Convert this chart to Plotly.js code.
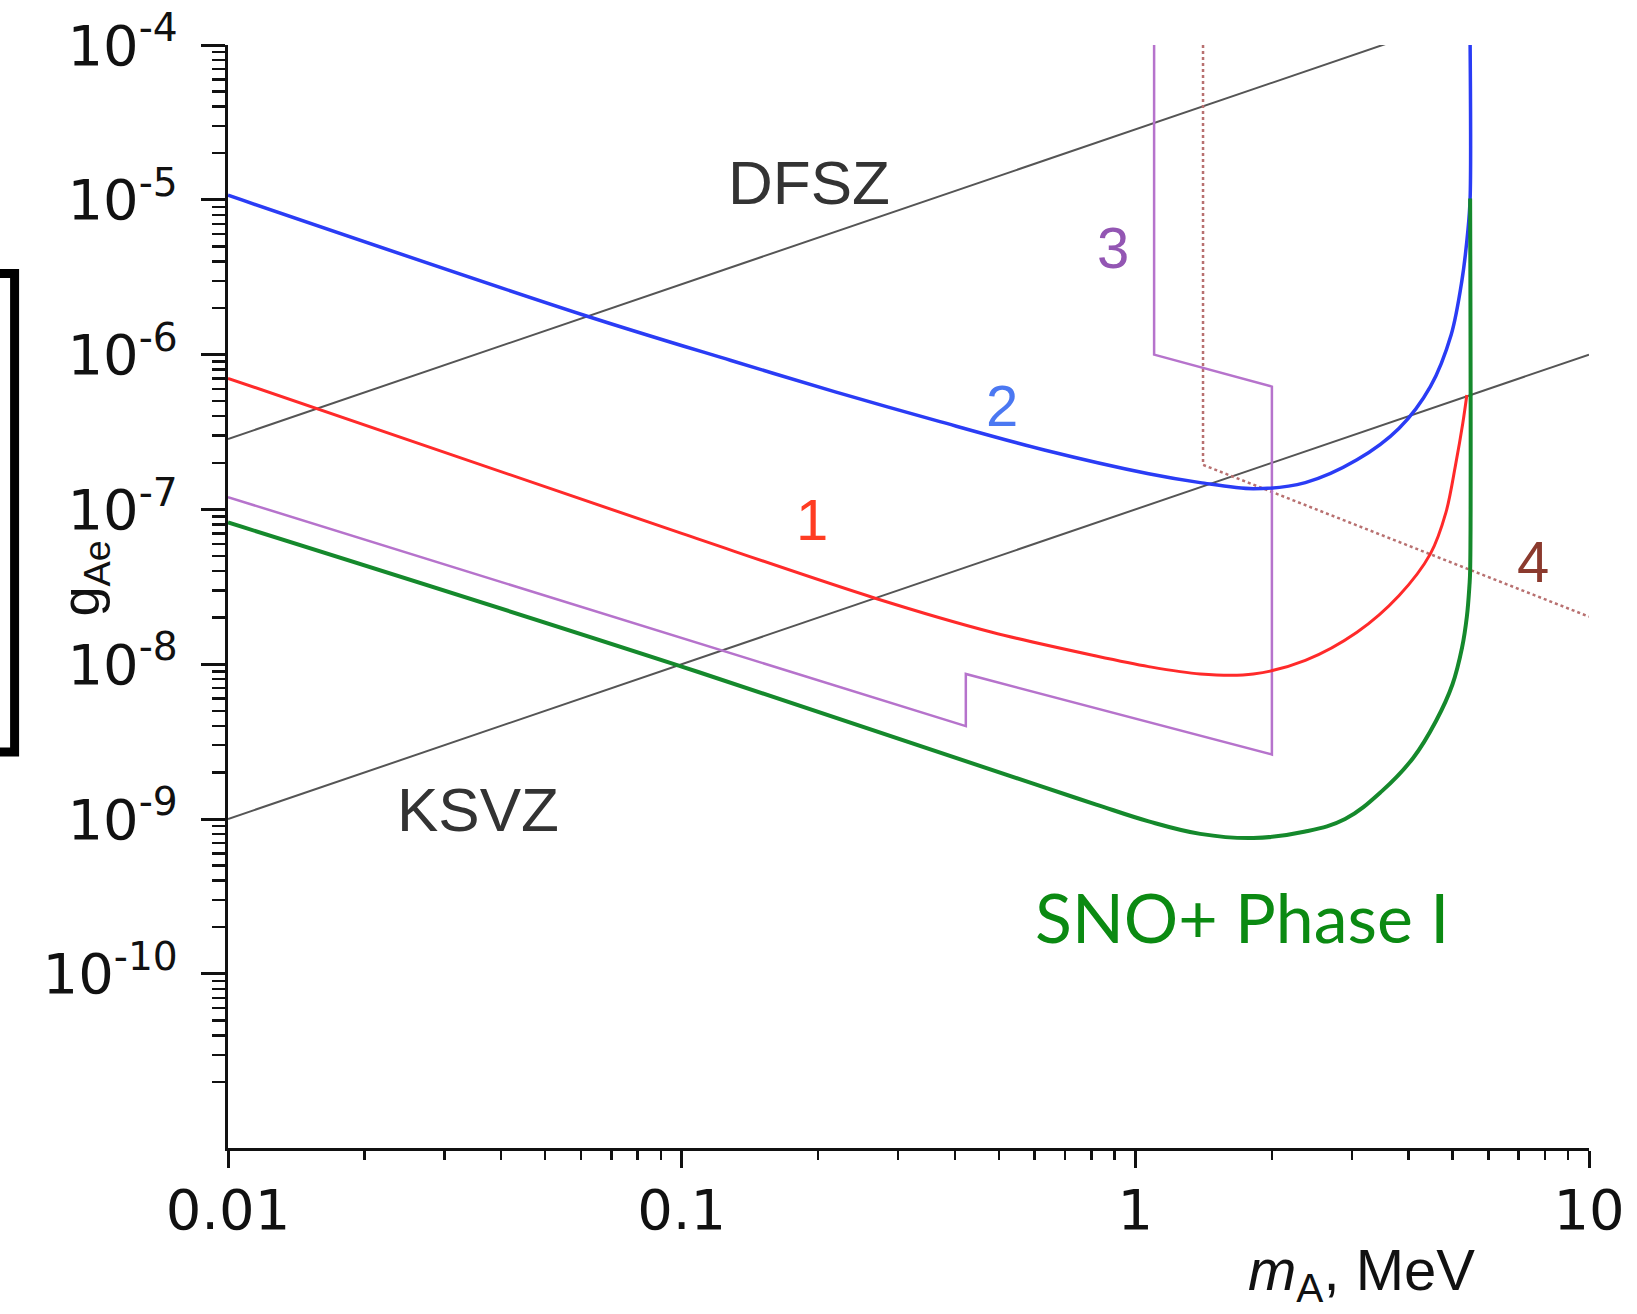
<!DOCTYPE html>
<html>
<head>
<meta charset="utf-8">
<script src="https://cdn.plot.ly/plotly-3.0.1.min.js"></script>
<style>html,body{margin:0;padding:0;background:#fff;}#chart{width:1637px;height:1314px;}</style>
</head>
<body>
<div id="chart"></div>
<script>
// ---- data (m_A in MeV, g_Ae) ----
var dfszX = [0.01, 10];
var dfszY = [2.85e-7, 2.85e-4];
var ksvzX = [0.01, 10];
var ksvzY = [1.0e-9, 1.0e-6];

var curve2X = [0.01, 0.0612, 0.1285, 0.218, 0.371, 0.630, 1.07, 1.39, 1.82, 2.37, 3.08, 3.81, 4.47, 4.97, 5.24, 5.41, 5.47, 5.47];
var curve2Y = [1.07e-5, 1.79e-6, 9.16e-7, 5.75e-7, 3.69e-7, 2.42e-7, 1.70e-7, 1.49e-7, 1.36e-7, 1.49e-7, 2.09e-7, 3.33e-7, 6.21e-7, 1.35e-6, 2.94e-6, 6.39e-6, 1.02e-5, 1.0e-4];

var curve1X = [0.01, 0.1, 0.267, 0.483, 0.82, 1.07, 1.39, 1.82, 2.37, 3.08, 3.81, 4.47, 4.84, 5.08, 5.27, 5.38];
var curve1Y = [7.03e-7, 7.0e-8, 2.67e-8, 1.61e-8, 1.13e-8, 9.65e-9, 8.65e-9, 8.65e-9, 1.06e-8, 1.61e-8, 2.77e-8, 5.16e-8, 9.6e-8, 1.94e-7, 3.6e-7, 5.48e-7];

var snoX = [0.01, 0.0985, 0.60, 0.82, 1.07, 1.39, 1.82, 2.37, 2.9, 3.5, 4.1, 4.6, 5.0, 5.25, 5.38, 5.45, 5.47, 5.47];
var snoY = [8.24e-8, 9.8e-9, 1.68e-9, 1.24e-9, 9.66e-10, 8.02e-10, 7.54e-10, 8.3e-10, 1.0e-9, 1.52e-9, 2.49e-9, 4.3e-9, 7.4e-9, 1.28e-8, 2.03e-8, 3.2e-8, 4.0e-8, 1.02e-5];

var curve3X = [0.01, 0.423, 0.423, 2.0, 2.0, 1.10, 1.10];
var curve3Y = [1.20e-7, 3.98e-9, 8.65e-9, 2.61e-9, 6.21e-7, 1.0e-6, 1.0e-4];

var curve4X = [1.41, 1.41, 10];
var curve4Y = [1.0e-4, 1.94e-7, 2.03e-8];

var xTickVals = [0.01, 0.1, 1, 10];
var xTickText = ['0.01', '0.1', '1', '10'];
var yTickVals = [1e-10, 1e-9, 1e-8, 1e-7, 1e-6, 1e-5, 1e-4];
var yTickText = ['10<sup>-10</sup>', '10<sup>-9</sup>', '10<sup>-8</sup>', '10<sup>-7</sup>', '10<sup>-6</sup>', '10<sup>-5</sup>', '10<sup>-4</sup>'];

// minor tick positions (2..9 within each decade)
function minorTicks(lo, hi) {
  var out = [];
  for (var e = lo; e < hi; e++) {
    for (var k = 2; k <= 9; k++) out.push(k * Math.pow(10, e));
  }
  return out;
}
var xMinor = minorTicks(-2, 1);
var yMinor = minorTicks(-11, -4);

function line(x, y, color, width, dash, smooth) {
  var ln = {color: color, width: width, dash: dash || 'solid', shape: smooth ? 'spline' : 'linear'};
  if (smooth) ln.smoothing = smooth;
  return {x: x, y: y, type: 'scatter', mode: 'lines', hoverinfo: 'skip', showlegend: false, line: ln};
}

var traces = [
  line(dfszX, dfszY, '#555555', 2),
  line(ksvzX, ksvzY, '#555555', 2),
  line(curve4X, curve4Y, '#b87070', 2.5, 'dot'),
  line(curve3X, curve3Y, '#b673cc', 2.5),
  line(curve1X, curve1Y, '#ff2a2a', 3, 'solid', 0.9),
  line(curve2X, curve2Y, '#2a3cf5', 3.5, 'solid', 0.9),
  line(snoX, snoY, '#15892c', 4, 'solid', 1.1)
];

var tickFont = {family: 'DejaVu Sans, sans-serif', size: 56, color: '#111'};
var labFont = function (c, s) { return {family: 'Liberation Sans, Arial, sans-serif', size: s, color: c}; };

var layout = {
  width: 1637, height: 1314,
  margin: {l: 228, r: 48, t: 45, b: 166, pad: 0},
  paper_bgcolor: '#ffffff', plot_bgcolor: '#ffffff',
  showlegend: false,
  xaxis: {
    type: 'log', range: [-2, 1], showgrid: false, zeroline: false,
    showline: true, linecolor: '#111', linewidth: 3,
    tickmode: 'array', tickvals: xTickVals, ticktext: xTickText,
    ticks: 'outside', ticklen: 17, tickwidth: 3, tickcolor: '#111',
    ticklabelstandoff: -6,
    tickfont: tickFont,
    minor: {ticks: 'outside', ticklen: 9, tickwidth: 2.5, tickcolor: '#111', tickmode: 'array', tickvals: xMinor, showgrid: false}
  },
  yaxis: {
    type: 'log', range: [-11.125, -4], showgrid: false, zeroline: false,
    showline: true, linecolor: '#111', linewidth: 3,
    tickmode: 'array', tickvals: yTickVals, ticktext: yTickText,
    ticks: 'outside', ticklen: 24, tickwidth: 3, tickcolor: '#111',
    ticklabelstandoff: 12,
    tickfont: tickFont,
    minor: {ticks: 'outside', ticklen: 13, tickwidth: 2.5, tickcolor: '#111', tickmode: 'array', tickvals: yMinor, showgrid: false}
  },
  xaxis2: {
    type: 'log', range: [-2, 1], overlaying: 'x', side: 'top', anchor: 'y',
    showgrid: false, zeroline: false, showline: true, linecolor: '#111', linewidth: 3,
    tickmode: 'array', tickvals: xTickVals, showticklabels: false,
    ticks: 'inside', ticklen: 6, tickwidth: 2, tickcolor: '#111',
    minor: {ticks: 'inside', ticklen: 4, tickwidth: 1.5, tickcolor: '#111', tickmode: 'array', tickvals: xMinor}
  },
  yaxis2: {
    type: 'log', range: [-11.125, -4], overlaying: 'y', side: 'right', anchor: 'x',
    showgrid: false, zeroline: false, showline: true, linecolor: '#111', linewidth: 3,
    tickmode: 'array', tickvals: yTickVals, showticklabels: false,
    ticks: 'inside', ticklen: 6, tickwidth: 2, tickcolor: '#111',
    minor: {ticks: 'inside', ticklen: 4, tickwidth: 1.5, tickcolor: '#111', tickmode: 'array', tickvals: yMinor}
  },
  annotations: [
    {text: 'DFSZ', xref: 'x', yref: 'y', x: -0.7186, y: -4.891, showarrow: false, font: labFont('#333333', 62)},
    {text: 'KSVZ', xref: 'x', yref: 'y', x: -1.448, y: -8.940, showarrow: false, font: labFont('#333333', 62)},
    {text: '1', xref: 'x', yref: 'y', x: -0.7117, y: -7.064, showarrow: false, font: labFont('#ff3c22', 58)},
    {text: '2', xref: 'x', yref: 'y', x: -0.293, y: -6.328, showarrow: false, font: labFont('#4b78f2', 58)},
    {text: '3', xref: 'x', yref: 'y', x: -0.049, y: -5.309, showarrow: false, font: labFont('#9356b3', 58)},
    {text: '4', xref: 'x', yref: 'y', x: 0.8757, y: -7.334, showarrow: false, font: labFont('#8b3a2e', 58)},
    {text: 'SNO+ Phase I', xref: 'x', yref: 'y', x: 0.2362, y: -9.629, showarrow: false,
     font: {family: 'Lato, Open Sans, sans-serif', size: 68, color: '#0b8a12'}},
    {text: '<i>m</i><sub>A</sub>, MeV', xref: 'paper', yref: 'paper', x: 0.833, y: -0.114,
     xanchor: 'center', yanchor: 'middle', showarrow: false, font: labFont('#111111', 58)},
    {text: 'g<sub>Ae</sub>', xref: 'paper', yref: 'paper', x: -0.106, y: 0.516,
     xanchor: 'center', yanchor: 'middle', showarrow: false, textangle: -90, font: labFont('#111111', 54)}
  ],
  shapes: [
    {type: 'path', xref: 'paper', yref: 'paper', layer: 'above',
     path: 'M -0.1700,0.7928 L -0.1568,0.7928 L -0.1568,0.3590 L -0.1700,0.3590',
     line: {color: '#000000', width: 9}}
  ]
};

Plotly.newPlot('chart', traces, layout, {staticPlot: true, displayModeBar: false});
</script>
</body>
</html>
